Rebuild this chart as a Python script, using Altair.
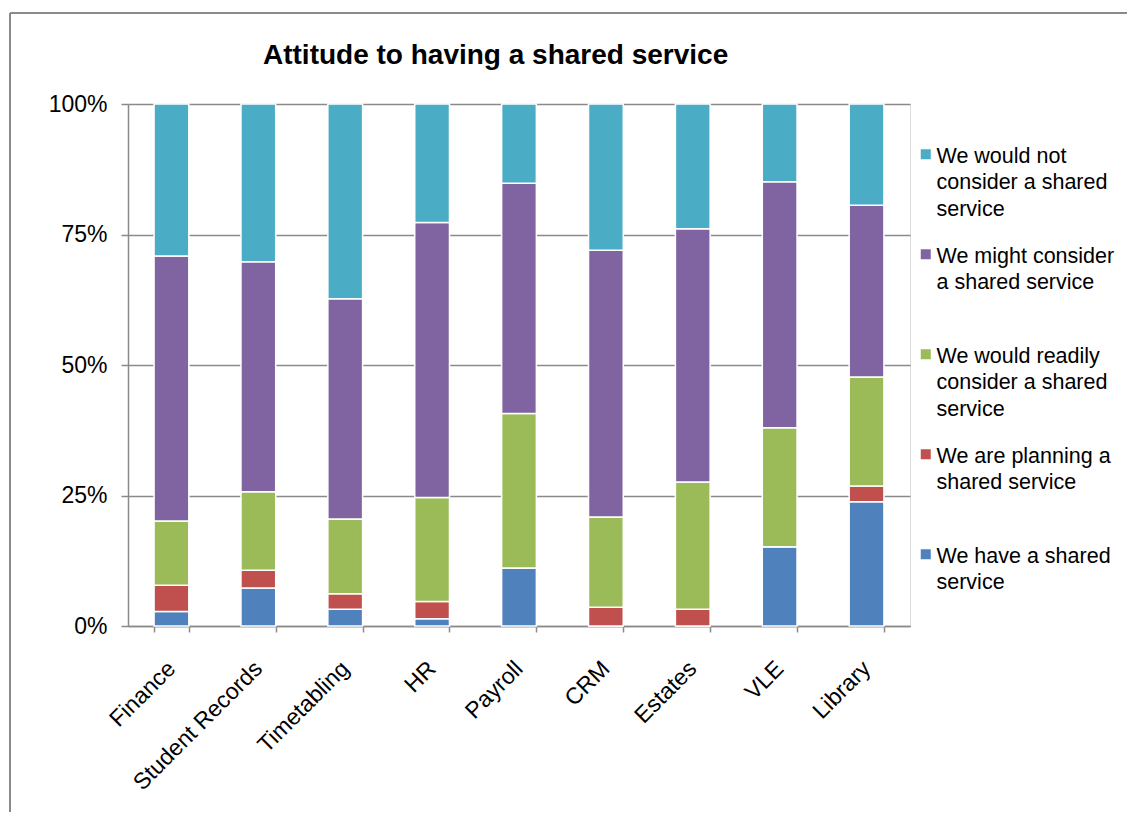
import altair as alt
import pandas as pd

categories = ["Finance", "Student Records", "Timetabling", "HR", "Payroll",
              "CRM", "Estates", "VLE", "Library"]

# percentages per category (bottom to top of each stack)
have_shared = [2.8, 7.3, 3.2, 1.4, 11.1, 0.0, 0.0, 15.2, 23.8]
planning = [5.0, 3.4, 3.0, 3.3, 0.0, 3.6, 3.2, 0.0, 3.0]
readily = [12.3, 15.0, 14.3, 19.9, 29.6, 17.3, 24.4, 22.8, 20.9]
might = [50.8, 44.1, 42.2, 52.7, 44.1, 51.1, 48.5, 47.1, 32.9]
would_not = [29.1, 30.2, 37.3, 22.7, 15.2, 28.0, 23.9, 14.9, 19.4]

series_names = [
    "We have a shared service",
    "We are planning a shared service",
    "We would readily consider a shared service",
    "We might consider a shared service",
    "We would not consider a shared service",
]
series_values = [have_shared, planning, readily, might, would_not]
series_colors = ["#4F81BD", "#C0504D", "#9BBB59", "#8064A2", "#4BACC6"]

legend_lines = {
    "We would not consider a shared service": ["We would not", "consider a shared", "service"],
    "We might consider a shared service": ["We might consider", "a shared service", ""],
    "We would readily consider a shared service": ["We would readily", "consider a shared", "service"],
    "We are planning a shared service": ["We are planning a", "shared service", ""],
    "We have a shared service": ["We have a shared", "service", ""],
}

rows = []
for si, (name, vals) in enumerate(zip(series_names, series_values)):
    for cat, v in zip(categories, vals):
        rows.append({"Area": cat, "Attitude": name, "Value": v, "order": si})
df = pd.DataFrame(rows)

legend_order = list(reversed(series_names))
legend_colors = list(reversed(series_colors))


def js_list(items):
    return "[" + ",".join("'" + s + "'" for s in items) + "]"


label_expr = ""
for k in legend_order:
    label_expr += "datum.label == '" + k + "' ? " + js_list(legend_lines[k]) + " : "
label_expr += "datum.label"

FONT = "Liberation Sans"
GRAY = "#8A8A8A"

bars = alt.Chart(df).mark_bar(stroke="white", strokeWidth=1.5).encode(
    x=alt.X("Area:N", sort=categories, title=None,
            scale=alt.Scale(paddingInner=0.6, paddingOuter=0.3),
            axis=alt.Axis(labelAngle=-45, tickBand="extent", tickSize=6,
                          labelPadding=25, labelOffset=-8, labelFontSize=23,
                          labelFont=FONT, labelColor="black", domainColor=GRAY,
                          tickColor=GRAY, domainWidth=1.5, tickWidth=1.5,
                          grid=False, labelLimit=300)),
    y=alt.Y("Value:Q", stack="normalize", title=None,
            scale=alt.Scale(domain=[0, 1], nice=False),
            axis=alt.Axis(values=[0, 0.25, 0.5, 0.75, 1], format=".0%",
                          tickSize=7, labelPadding=14, labelFontSize=23,
                          labelFont=FONT, labelColor="black", domainColor=GRAY,
                          tickColor=GRAY, domainWidth=1.5, tickWidth=1.5,
                          grid=True, gridColor=GRAY, gridWidth=1.5)),
    color=alt.Color("Attitude:N",
                    scale=alt.Scale(domain=legend_order, range=legend_colors),
                    legend=alt.Legend(title=None, orient="none", legendX=787,
                                      legendY=31, labelExpr=label_expr,
                                      labelFontSize=21.5, labelFont=FONT,
                                      labelColor="black", labelLimit=300,
                                      labelBaseline="top", labelOffset=0,
                                      symbolType="M-1,0.7H1V2.7H-1Z",
                                      symbolSize=100, symbolStrokeWidth=0,
                                      rowPadding=14, padding=0)),
    order=alt.Order("order:Q", sort="ascending"),
)

frame_left = alt.Chart(df).mark_rule(color=GRAY, strokeWidth=1.5).encode(
    x=alt.value(-118), y=alt.value(-91), y2=alt.value(720))
frame_top = alt.Chart(df).mark_rule(color=GRAY, strokeWidth=1.5).encode(
    x=alt.value(-118), x2=alt.value(1100), y=alt.value(-91))

chart = alt.layer(bars, frame_left, frame_top).properties(
    width=782,
    height=522,
    autosize=alt.AutoSizeParams(type="none"),
    padding={"left": 120, "top": 96, "right": 217, "bottom": 186},
    title=alt.TitleParams("Attitude to having a shared service", anchor="start",
                          frame="group", dx=135, dy=80, font=FONT, fontSize=28,
                          fontWeight="bold", color="black",
                          baseline="alphabetic", offset=0),
).configure_view(stroke=None).configure(
    background="white",
    style={"guide-label": {"lineHeight": 26.5}},
)

chart.save("out.html", embed_options={"renderer": "svg", "actions": False})
